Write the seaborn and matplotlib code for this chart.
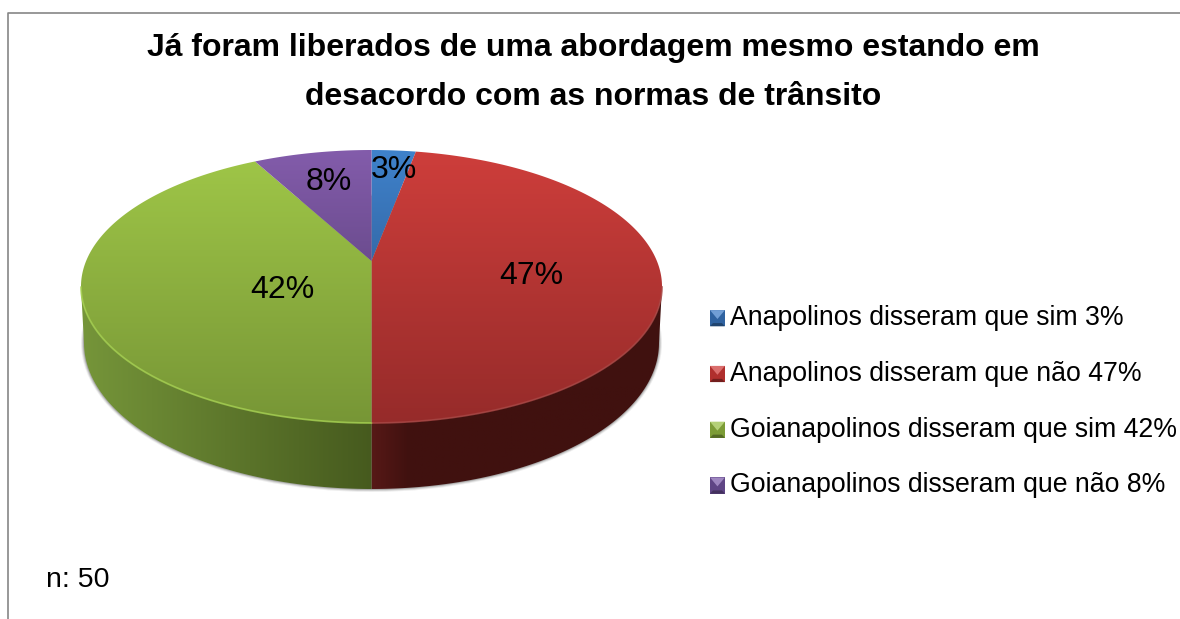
"""Pseudo-3D pie chart of traffic stop answers, drawn with a seaborn theme and palettes."""

import matplotlib.pyplot as plt
import numpy as np
import seaborn as sns
from matplotlib.legend_handler import HandlerBase
from matplotlib.patches import Ellipse, Patch, Polygon, Rectangle

labels = [
    "Anapolinos disseram que sim 3%",
    "Anapolinos disseram que não 47%",
    "Goianapolinos disseram que sim 42%",
    "Goianapolinos disseram que não 8%",
]
values = [3, 47, 42, 8]
title = "Já foram liberados de uma abordagem mesmo estando em\ndesacordo com as normas de trânsito"
note = "n: 50"

top_light = ["#3F82CB", "#CE3E3B", "#A0C748", "#835CAB"]
top_dark = ["#25487A", "#962B2A", "#779636", "#4A3566"]
side_left = ["#2A4F80", "#5A1A18", "#76963A", "#4A3566"]
side_right = ["#1D3A60", "#40110F", "#465A1E", "#3A2850"]
rim_colors = ["#5A93D0", "#A84543", "#A5D050", "#8E6CB0"]
key_colors = ["#2F62A0", "#B02F2D", "#7C9C36", "#5F4585"]

label_xy = [(394, 169.5), (531, 276.5), (282, 289.5), (329, 181.5)]

# pie geometry in pixels of the figure
CX, CY, RX, RY = 371.5, 286.5, 290.5, 136.5
BOTTOM_CY, BOTTOM_RX, BOTTOM_RY = 343.0, 287.5, 146.0
APEX_OFFSET = 0.187  # perspective: the centre of the slices sits above the ellipse centre


def rim_unit(fractions):
    """Rim point on the unit circle for a fraction of the pie, seen from the shifted apex."""
    theta = 2 * np.pi * np.asarray(fractions)
    dx, dy = np.sin(theta), np.cos(theta)
    proj = APEX_OFFSET * dy
    lam = -proj + np.sqrt(proj**2 + 1 - APEX_OFFSET**2)
    return lam * dx, APEX_OFFSET + lam * dy


class BevelHandler(HandlerBase):
    """Small square legend key with a lighter top triangle and a darker bottom."""

    def create_artists(self, legend, orig_handle, x0, y0, width, height, fontsize, trans):
        x1, y1 = x0 + width, y0 + height
        mid = orig_handle.get_facecolor()
        light = sns.set_hls_values(mid, l=0.64)
        dark = sns.set_hls_values(mid, l=0.28)
        arts = [
            Rectangle((x0, y0), width, height, facecolor=mid, edgecolor="none"),
            Polygon([(x0, y0), (x1, y0), (x1 - width * 0.2, y0 + height * 0.2), (x0 + width * 0.2, y0 + height * 0.2)], facecolor=dark),
            Polygon([(x0, y1), (x1, y1), (x0 + width * 0.5, y0 + height * 0.45)], facecolor=light),
        ]
        for art in arts:
            art.set_transform(trans)
            art.set_linewidth(0)
        return arts


sns.set_theme(style="white")
plt.rcParams["font.family"] = ["Liberation Sans", "DejaVu Sans"]

fig = plt.figure(figsize=(11.8, 6.19), dpi=100)
ax = fig.add_axes([0, 0, 1, 1])
ax.set_xlim(0, 1180)
ax.set_ylim(619, 0)
ax.set_axis_off()
ax.set_autoscale_on(False)

# chart frame
ax.plot([8, 8, 1180], [619, 12.5, 12.5], color="#868686", lw=1.2, zorder=1)

# soft shadow under the disc
for grow, alpha in [(3.0, 0.10), (2.0, 0.18), (1.0, 0.3)]:
    ax.add_patch(
        Ellipse(
            (CX, BOTTOM_CY),
            2 * (BOTTOM_RX + grow),
            2 * (BOTTOM_RY + grow),
            facecolor="#555555",
            edgecolor="none",
            alpha=alpha,
            zorder=1.5,
        )
    )

edges = np.cumsum([0] + values) / sum(values)

# side wall of the front half
for i in range(len(values)):
    frac = np.linspace(edges[i], edges[i + 1], 600)
    u, v = rim_unit(frac)
    front = v <= 0
    if not front.any():
        continue
    u, v = u[front], v[front]
    top_pts = np.column_stack([CX + RX * u, CY - RY * v])
    low_pts = np.column_stack([CX + BOTTOM_RX * u, BOTTOM_CY - BOTTOM_RY * v])
    poly = Polygon(np.vstack([top_pts, low_pts[::-1]]), transform=ax.transData, facecolor="none", edgecolor="none")
    ax.add_patch(poly)
    # lighter towards the outer edge on the left, reddish glow next to the centre line on the right
    stops = [side_left[i], side_right[i]] if u.mean() < 0 else [side_left[i]] + [side_right[i]] * 7
    cmap = sns.blend_palette(stops, as_cmap=True)
    x_lo, x_hi = low_pts[:, 0].min() - 6, max(top_pts[:, 0].max(), low_pts[:, 0].max()) + 1
    im = ax.imshow(
        np.linspace(0, 1, 256).reshape(1, -1),
        cmap=cmap,
        extent=(x_lo, x_hi, BOTTOM_CY + BOTTOM_RY, CY),
        aspect="auto",
        zorder=2,
    )
    im.set_clip_path(poly)

# top face of the slices
for i in range(len(values)):
    frac = np.linspace(edges[i], edges[i + 1], 400)
    u, v = rim_unit(frac)
    rim = np.column_stack([CX + RX * u, CY - RY * v])
    apex = [CX, CY - RY * APEX_OFFSET]
    poly = Polygon(np.vstack([[apex], rim]), transform=ax.transData, facecolor="none", edgecolor="none")
    ax.add_patch(poly)
    cmap = sns.blend_palette([top_light[i], top_dark[i]], as_cmap=True)
    im = ax.imshow(
        np.linspace(0, 1, 256).reshape(-1, 1),
        cmap=cmap,
        extent=(CX - RX, CX + RX, CY + RY, CY - RY),
        aspect="auto",
        zorder=3,
    )
    im.set_clip_path(poly)
    # bevel along the front rim
    front = v <= 0
    if front.any():
        ax.plot(rim[front, 0], rim[front, 1], color=rim_colors[i], lw=1.3, alpha=0.8, zorder=3.5)

for xy, value in zip(label_xy, values):
    ax.text(xy[0], xy[1], f"{value}%", fontsize=23, color="black", ha="center", va="center", zorder=5)

handles = [Patch(facecolor=c, label=t) for c, t in zip(key_colors, labels)]
ax.legend(
    handles=handles,
    loc="upper left",
    bbox_to_anchor=(710 / 1180, 1 - 305 / 619),
    frameon=False,
    fontsize=19.15,
    labelcolor="black",
    labelspacing=1.12,
    handlelength=0.56,
    handleheight=0.56,
    handletextpad=0.19,
    borderpad=0,
    borderaxespad=0,
    handler_map={Patch: BevelHandler()},
)

ax.text(593, 72.5, title, fontsize=23, fontweight="bold", color="black", ha="center", va="center", linespacing=1.85)
ax.text(46, 587, note, fontsize=20.5, color="black", ha="left", va="baseline")

fig.savefig("out.png", dpi=100)
